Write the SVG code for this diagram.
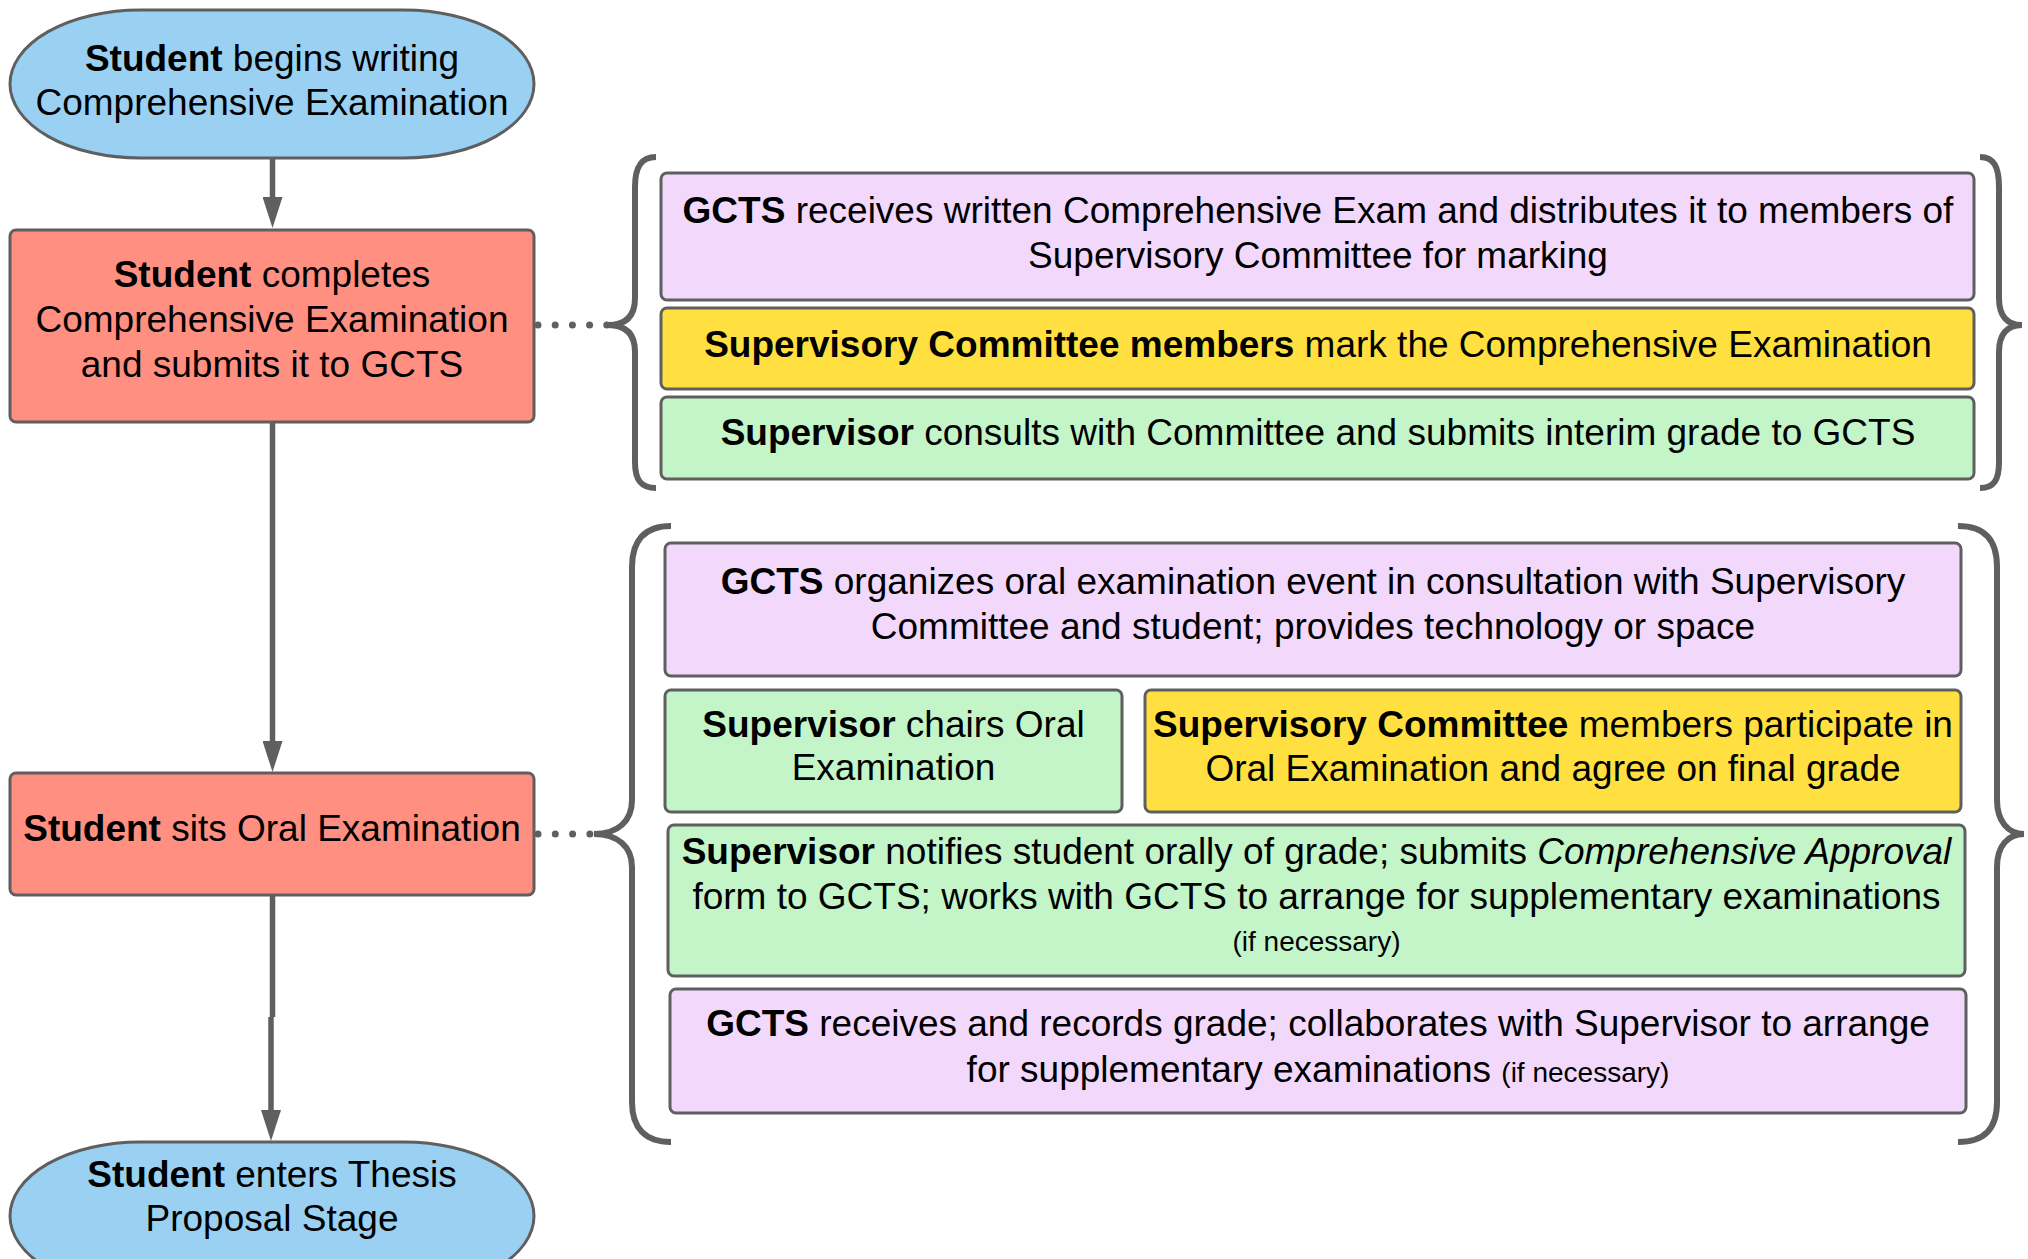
<svg xmlns="http://www.w3.org/2000/svg" width="2028" height="1259" viewBox="0 0 2028 1259">
<defs>
<style>
.t{font-family:"Liberation Sans",Arial,sans-serif;font-size:37px;fill:#000;text-anchor:middle}
.b{font-weight:bold}
.i{font-style:italic}
.s{font-size:28px}
.box{stroke:#5f5f5f;stroke-width:3}
.blue{fill:#9ad1f2}
.salmon{fill:#ff8f80}
.lilac{fill:#f2d9fc}
.yellow{fill:#ffe040}
.green{fill:#c3f5c9}
.line{fill:none;stroke:#5f5f5f;stroke-width:5.5}
.dots{fill:none;stroke:#5f5f5f;stroke-width:7;stroke-linecap:round}
.brace{fill:none;stroke:#5f5f5f;stroke-width:6}
</style>
<marker id="arrow" viewBox="0 0 31 20" refX="2" refY="10" markerWidth="31" markerHeight="20" markerUnits="userSpaceOnUse" orient="auto">
<path d="M0,0 L31,10 L0,20 z" fill="#5f5f5f"/>
</marker>
</defs>
<rect width="2028" height="1259" fill="#fff"/>

<g id="connectors">
<path class="line" d="M272.5,158 V199" marker-end="url(#arrow)"/>
<path class="line" d="M272.5,422 V743" marker-end="url(#arrow)"/>
<path class="line" d="M272.5,895 V1017 M271,1017 V1112" marker-end="url(#arrow)"/>
<path class="dots" d="M538,325 H607" stroke-dasharray="0 17.2"/>
<path class="dots" d="M538,834 H590" stroke-dasharray="0 17.3"/>
</g>

<g id="braces">
<path class="brace" d="M656,157 C641,157 635,167 635,187 L635,298 C635,316 626,325 608,325 C626,325 635,334 635,352 L635,462 C635,480 641,488 656,488"/>
<path class="brace" d="M1980,157 C1994,157 1999,167 1999,187 L1999,298 C1999,316 2007,325 2022,325 C2007,325 1999,334 1999,352 L1999,462 C1999,480 1994,488 1980,488"/>
<path class="brace" d="M671,526 C645,526 632,540 632,567 L632,800 C632,821 618,834 594,834 C618,834 632,847 632,867 L632,1102 C632,1128 645,1142 671,1142"/>
<path class="brace" d="M1958,526 C1985,526 1997,540 1997,567 L1997,800 C1997,821 2008,834 2024,834 C2008,834 1997,846 1997,867 L1997,1102 C1997,1128 1985,1142 1958,1142"/>
</g>

<g id="start">
<rect class="box blue" x="10" y="10" width="524" height="148" rx="130" ry="74"/>
<text class="t" x="272" y="71"><tspan class="b">Student</tspan> begins writing</text>
<text class="t" x="272" y="115">Comprehensive Examination</text>
</g>

<g id="complete">
<rect class="box salmon" x="10" y="230" width="524" height="192" rx="6"/>
<text class="t" x="272" y="287"><tspan class="b">Student</tspan> completes</text>
<text class="t" x="272" y="332">Comprehensive Examination</text>
<text class="t" x="272" y="377">and submits it to GCTS</text>
</g>

<g id="oral">
<rect class="box salmon" x="10" y="773" width="524" height="122" rx="6"/>
<text class="t" x="272" y="841"><tspan class="b">Student</tspan> sits Oral Examination</text>
</g>

<g id="end">
<rect class="box blue" x="10" y="1142" width="524" height="148" rx="130" ry="74"/>
<text class="t" x="272" y="1187"><tspan class="b">Student</tspan> enters Thesis</text>
<text class="t" x="272" y="1231">Proposal Stage</text>
</g>

<g id="gcts-receives">
<rect class="box lilac" x="661" y="173" width="1313" height="127" rx="6"/>
<text class="t" x="1318" y="223"><tspan class="b">GCTS</tspan> receives written Comprehensive Exam and distributes it to members of</text>
<text class="t" x="1318" y="268">Supervisory Committee for marking</text>
</g>

<g id="committee-marks">
<rect class="box yellow" x="661" y="308" width="1313" height="81" rx="6"/>
<text class="t" x="1318" y="357"><tspan class="b">Supervisory Committee members</tspan> mark the Comprehensive Examination</text>
</g>

<g id="supervisor-consults">
<rect class="box green" x="661" y="397" width="1313" height="82" rx="6"/>
<text class="t" x="1318" y="445"><tspan class="b">Supervisor</tspan> consults with Committee and submits interim grade to GCTS</text>
</g>

<g id="gcts-organizes">
<rect class="box lilac" x="665" y="543" width="1296" height="133" rx="6"/>
<text class="t" x="1313" y="594"><tspan class="b">GCTS</tspan> organizes oral examination event in consultation with Supervisory</text>
<text class="t" x="1313" y="639">Committee and student; provides technology or space</text>
</g>

<g id="supervisor-chairs">
<rect class="box green" x="665" y="690" width="457" height="122" rx="6"/>
<text class="t" x="893.5" y="737"><tspan class="b">Supervisor</tspan> chairs Oral</text>
<text class="t" x="893.5" y="780">Examination</text>
</g>

<g id="committee-participates">
<rect class="box yellow" x="1145" y="690" width="816" height="122" rx="6"/>
<text class="t" x="1553" y="737"><tspan class="b">Supervisory Committee</tspan> members participate in</text>
<text class="t" x="1553" y="781">Oral Examination and agree on final grade</text>
</g>

<g id="supervisor-notifies">
<rect class="box green" x="668" y="825" width="1297" height="151" rx="6"/>
<text class="t" x="1316.5" y="864"><tspan class="b">Supervisor</tspan> notifies student orally of grade; submits <tspan class="i">Comprehensive Approval</tspan></text>
<text class="t" x="1316.5" y="909">form to GCTS; works with GCTS to arrange for supplementary examinations</text>
<text class="t s" x="1316.5" y="951">(if necessary)</text>
</g>

<g id="gcts-records">
<rect class="box lilac" x="670" y="989" width="1296" height="124" rx="6"/>
<text class="t" x="1318" y="1036"><tspan class="b">GCTS</tspan> receives and records grade; collaborates with Supervisor to arrange</text>
<text class="t" x="1318" y="1082">for supplementary examinations <tspan class="s">(if necessary)</tspan></text>
</g>
</svg>
